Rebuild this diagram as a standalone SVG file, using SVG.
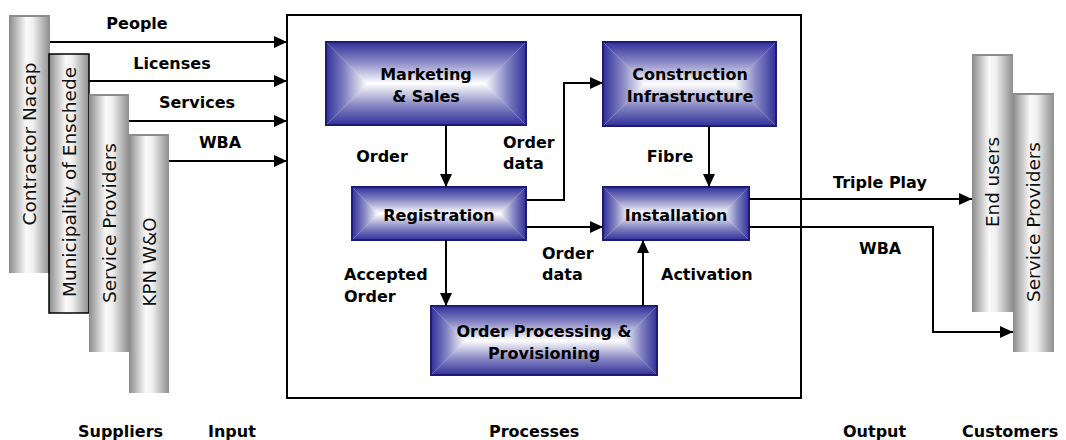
<svg xmlns="http://www.w3.org/2000/svg" width="1066" height="440" viewBox="0 0 1066 440">
<style>
.lbl{font-family:"DejaVu Sans",Verdana,sans-serif;font-weight:bold;font-size:16px;fill:#000}
.mid{text-anchor:middle}
.bar{fill:url(#barG)}
.bartop{fill:#8c8c8c}
.vt{font-family:"DejaVu Sans",Verdana,sans-serif;font-size:18px;fill:#111;text-anchor:middle}
.conn{fill:none;stroke:#000;stroke-width:2}
.edge{fill:none;stroke:#1c1c78;stroke-width:2}
</style>
<defs>
<linearGradient id="barG" x1="0" y1="0" x2="1" y2="0">
<stop offset="0" stop-color="#8a8a8a"/>
<stop offset="0.15" stop-color="#b4b4b4"/>
<stop offset="0.42" stop-color="#fafafa"/>
<stop offset="0.58" stop-color="#f0f0f0"/>
<stop offset="0.85" stop-color="#b0b0b0"/>
<stop offset="1" stop-color="#8e8e8e"/>
</linearGradient>
<linearGradient id="gT" x1="0" y1="0" x2="0" y2="1">
<stop offset="0" stop-color="#30309a" stop-opacity="1"/>
<stop offset="0.45" stop-color="#30309a" stop-opacity="0.6"/>
<stop offset="1" stop-color="#30309a" stop-opacity="0"/>
</linearGradient>
<linearGradient id="gB" x1="0" y1="1" x2="0" y2="0">
<stop offset="0" stop-color="#30309a" stop-opacity="1"/>
<stop offset="0.45" stop-color="#30309a" stop-opacity="0.6"/>
<stop offset="1" stop-color="#30309a" stop-opacity="0"/>
</linearGradient>
<linearGradient id="gL" x1="0" y1="0" x2="1" y2="0">
<stop offset="0" stop-color="#30309a" stop-opacity="1"/>
<stop offset="0.45" stop-color="#30309a" stop-opacity="0.6"/>
<stop offset="1" stop-color="#30309a" stop-opacity="0"/>
</linearGradient>
<linearGradient id="gR" x1="1" y1="0" x2="0" y2="0">
<stop offset="0" stop-color="#30309a" stop-opacity="1"/>
<stop offset="0.45" stop-color="#30309a" stop-opacity="0.6"/>
<stop offset="1" stop-color="#30309a" stop-opacity="0"/>
</linearGradient>
<marker id="arr" markerUnits="userSpaceOnUse" markerWidth="13" markerHeight="12" viewBox="0 0 13 12" refX="13" refY="6" orient="auto">
<path d="M0,0 L13,6 L0,12 z" fill="#000"/>
</marker>
</defs>
<rect x="0" y="0" width="1066" height="440" fill="#fff"/>

<!-- Suppliers -->
<g id="contractor">
<rect class="bar" x="9" y="15" width="41" height="258"/>
<rect class="bartop" x="9" y="15" width="41" height="2"/>
<text class="vt" transform="translate(36,144) rotate(-90)" textLength="163" lengthAdjust="spacingAndGlyphs">Contractor Nacap</text>
</g>
<g id="municipality">
<rect class="bar" x="49" y="54" width="40" height="259" stroke="#000" stroke-width="1.5"/>
<text class="vt" transform="translate(75.5,182) rotate(-90)" textLength="230" lengthAdjust="spacingAndGlyphs">Municipality of Enschede</text>
</g>
<g id="serviceproviders-in">
<rect class="bar" x="89" y="94" width="40" height="258"/>
<rect class="bartop" x="89" y="94" width="40" height="2"/>
<text class="vt" transform="translate(115.5,223) rotate(-90)" textLength="160" lengthAdjust="spacingAndGlyphs">Service Providers</text>
</g>
<g id="kpn">
<rect class="bar" x="129" y="134" width="40" height="259"/>
<rect class="bartop" x="129" y="134" width="40" height="2"/>
<text class="vt" transform="translate(155.5,262) rotate(-90)" textLength="89" lengthAdjust="spacingAndGlyphs">KPN W&amp;O</text>
</g>

<!-- Customers -->
<g id="endusers">
<rect class="bar" x="972" y="54" width="41" height="258"/>
<rect class="bartop" x="972" y="54" width="41" height="2"/>
<text class="vt" transform="translate(998.5,182) rotate(-90)" textLength="90" lengthAdjust="spacingAndGlyphs">End users</text>
</g>
<g id="serviceproviders-out">
<rect class="bar" x="1013" y="93" width="41" height="259"/>
<rect class="bartop" x="1013" y="93" width="41" height="2"/>
<text class="vt" transform="translate(1039.5,222) rotate(-90)" textLength="160" lengthAdjust="spacingAndGlyphs">Service Providers</text>
</g>

<!-- Process frame -->
<g id="processes-frame">
<rect x="287" y="15" width="514" height="383" fill="none" stroke="#000" stroke-width="2"/>
</g>

<!-- Nodes -->
<g id="marketing">
<rect x="326" y="42" width="200" height="83" fill="#fff"/>
<polygon fill="url(#gT)" points="326,42 526,42 484.5,83.5 367.5,83.5"/>
<polygon fill="url(#gB)" points="326,125 526,125 484.5,83.5 367.5,83.5"/>
<polygon fill="url(#gL)" points="326,42 367.5,83.5 326,125"/>
<polygon fill="url(#gR)" points="526,42 484.5,83.5 526,125"/>
<rect class="edge" x="326" y="42" width="200" height="83"/>
<text class="lbl mid" x="426" y="80">Marketing</text>
<text class="lbl mid" x="426" y="102">&amp; Sales</text>
</g>
<g id="construction">
<rect x="603" y="42" width="173" height="84" fill="#fff"/>
<polygon fill="url(#gT)" points="603,42 776,42 734,84 645,84"/>
<polygon fill="url(#gB)" points="603,126 776,126 734,84 645,84"/>
<polygon fill="url(#gL)" points="603,42 645,84 603,126"/>
<polygon fill="url(#gR)" points="776,42 734,84 776,126"/>
<rect class="edge" x="603" y="42" width="173" height="84"/>
<text class="lbl mid" x="690" y="80">Construction</text>
<text class="lbl mid" x="690" y="102">Infrastructure</text>
</g>
<g id="registration">
<rect x="352" y="187" width="174" height="53" fill="#fff"/>
<polygon fill="url(#gT)" points="352,187 526,187 499.5,213.5 378.5,213.5"/>
<polygon fill="url(#gB)" points="352,240 526,240 499.5,213.5 378.5,213.5"/>
<polygon fill="url(#gL)" points="352,187 378.5,213.5 352,240"/>
<polygon fill="url(#gR)" points="526,187 499.5,213.5 526,240"/>
<rect class="edge" x="352" y="187" width="174" height="53"/>
<text class="lbl mid" x="439" y="221">Registration</text>
</g>
<g id="installation">
<rect x="603" y="187" width="146" height="53" fill="#fff"/>
<polygon fill="url(#gT)" points="603,187 749,187 722.5,213.5 629.5,213.5"/>
<polygon fill="url(#gB)" points="603,240 749,240 722.5,213.5 629.5,213.5"/>
<polygon fill="url(#gL)" points="603,187 629.5,213.5 603,240"/>
<polygon fill="url(#gR)" points="749,187 722.5,213.5 749,240"/>
<rect class="edge" x="603" y="187" width="146" height="53"/>
<text class="lbl mid" x="676" y="221">Installation</text>
</g>
<g id="orderprocessing">
<rect x="431" y="306" width="226" height="69" fill="#fff"/>
<polygon fill="url(#gT)" points="431,306 657,306 622.5,340.5 465.5,340.5"/>
<polygon fill="url(#gB)" points="431,375 657,375 622.5,340.5 465.5,340.5"/>
<polygon fill="url(#gL)" points="431,306 465.5,340.5 431,375"/>
<polygon fill="url(#gR)" points="657,306 622.5,340.5 657,375"/>
<rect class="edge" x="431" y="306" width="226" height="69"/>
<text class="lbl mid" x="544" y="337">Order Processing &amp;</text>
<text class="lbl mid" x="544" y="359">Provisioning</text>
</g>

<!-- Connectors -->
<g id="connectors">
<path class="conn" marker-end="url(#arr)" d="M50,42 H287"/>
<path class="conn" marker-end="url(#arr)" d="M89,81 H287"/>
<path class="conn" marker-end="url(#arr)" d="M129,121 H287"/>
<path class="conn" marker-end="url(#arr)" d="M169,161 H287"/>
<path class="conn" marker-end="url(#arr)" d="M446,125 V187"/>
<path class="conn" marker-end="url(#arr)" d="M526,200 H564 V83 H603"/>
<path class="conn" marker-end="url(#arr)" d="M709,126 V187"/>
<path class="conn" marker-end="url(#arr)" d="M526,227 H603"/>
<path class="conn" marker-end="url(#arr)" d="M446,240 V306"/>
<path class="conn" marker-end="url(#arr)" d="M643,306 V240"/>
<path class="conn" marker-end="url(#arr)" d="M749,199 H972"/>
<path class="conn" marker-end="url(#arr)" d="M749,227 H933 V332 H1013"/>
</g>

<!-- Connector labels -->
<g id="labels">
<text class="lbl mid" x="137" y="29">People</text>
<text class="lbl mid" x="172" y="69">Licenses</text>
<text class="lbl mid" x="197" y="108">Services</text>
<text class="lbl mid" x="220" y="148">WBA</text>
<text class="lbl mid" x="382" y="162">Order</text>
<text class="lbl" x="503" y="148">Order</text>
<text class="lbl" x="503" y="169">data</text>
<text class="lbl mid" x="670" y="162">Fibre</text>
<text class="lbl" x="542" y="259">Order</text>
<text class="lbl" x="542" y="280">data</text>
<text class="lbl" x="344" y="280">Accepted</text>
<text class="lbl" x="344" y="302">Order</text>
<text class="lbl" x="661" y="280">Activation</text>
<text class="lbl" x="833" y="188">Triple Play</text>
<text class="lbl" x="859" y="254">WBA</text>
</g>

<!-- Column titles -->
<g id="titles">
<text class="lbl" x="78" y="437">Suppliers</text>
<text class="lbl" x="208" y="437">Input</text>
<text class="lbl" x="489" y="437">Processes</text>
<text class="lbl" x="843" y="437">Output</text>
<text class="lbl" x="962" y="437">Customers</text>
</g>
</svg>
